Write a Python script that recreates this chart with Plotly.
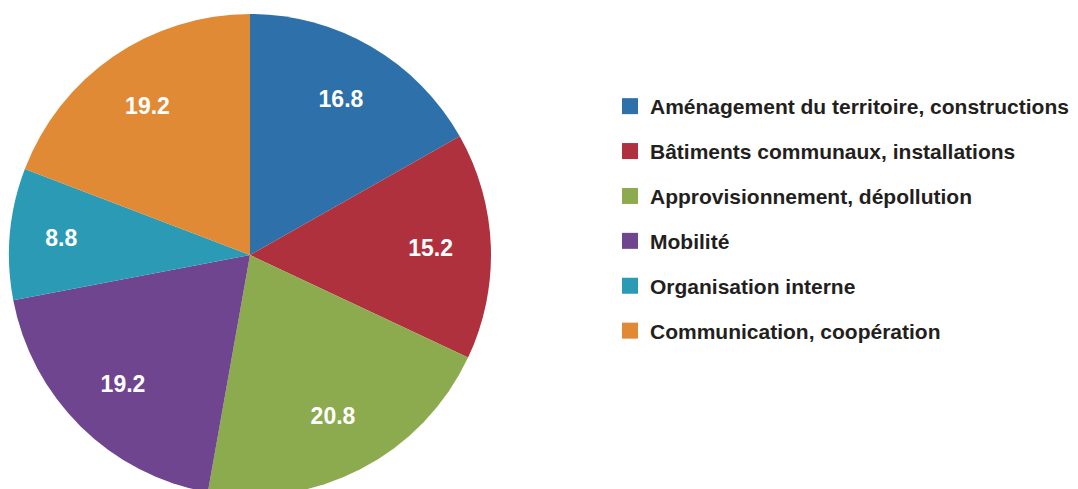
import plotly.graph_objects as go

categories = [
    "Aménagement du territoire, constructions",
    "Bâtiments communaux, installations",
    "Approvisionnement, dépollution",
    "Mobilité",
    "Organisation interne",
    "Communication, coopération",
]
values = [16.8, 15.2, 20.8, 19.2, 8.8, 19.2]
colors = ["#2E71AA", "#AF313E", "#8CAA4E", "#6F4590", "#2B9AB5", "#E08A35"]

FONT = "Arial, 'Liberation Sans', sans-serif"
W, H = 1078, 497
pie_domain = dict(x=[9 / W, 491 / W], y=[1 / H, 483 / H])

fig = go.Figure()
# filled slices
fig.add_trace(go.Pie(
    labels=categories, values=values, sort=False,
    direction="clockwise", rotation=0,
    marker=dict(colors=colors, line=dict(width=0)),
    textinfo="none", hoverinfo="label+value",
    showlegend=False, domain=pie_domain,
))
# transparent overlay carrying the value labels (hole pushes labels outward)
fig.add_trace(go.Pie(
    labels=categories, values=values, sort=False,
    direction="clockwise", rotation=0, hole=0.5,
    marker=dict(colors=["rgba(0,0,0,0)"] * len(values), line=dict(width=0)),
    texttemplate="%{value:.1f}", textposition="inside",
    insidetextorientation="horizontal",
    textfont=dict(family=FONT, size=23, color="white", weight="bold"),
    hoverinfo="skip", showlegend=False, domain=pie_domain,
))

for i, (cat, col) in enumerate(zip(categories, colors)):
    fig.add_trace(go.Scatter(
        x=[None], y=[None], mode="markers", name=cat,
        marker=dict(symbol="square", size=16, color=col),
        legendgroup=f"g{i}", showlegend=True,
    ))

fig.update_layout(
    width=W, height=H,
    margin=dict(l=0, r=0, t=0, b=0),
    paper_bgcolor="white", plot_bgcolor="white",
    xaxis=dict(visible=False), yaxis=dict(visible=False),
    legend=dict(
        x=610 / W, xanchor="left", y=1 - 86 / H, yanchor="top",
        font=dict(family=FONT, size=21, color="#231F20", weight="bold"),
        tracegroupgap=14.6, itemsizing="trace",
        bgcolor="rgba(0,0,0,0)",
    ),
)

fig.write_html("out.html")
